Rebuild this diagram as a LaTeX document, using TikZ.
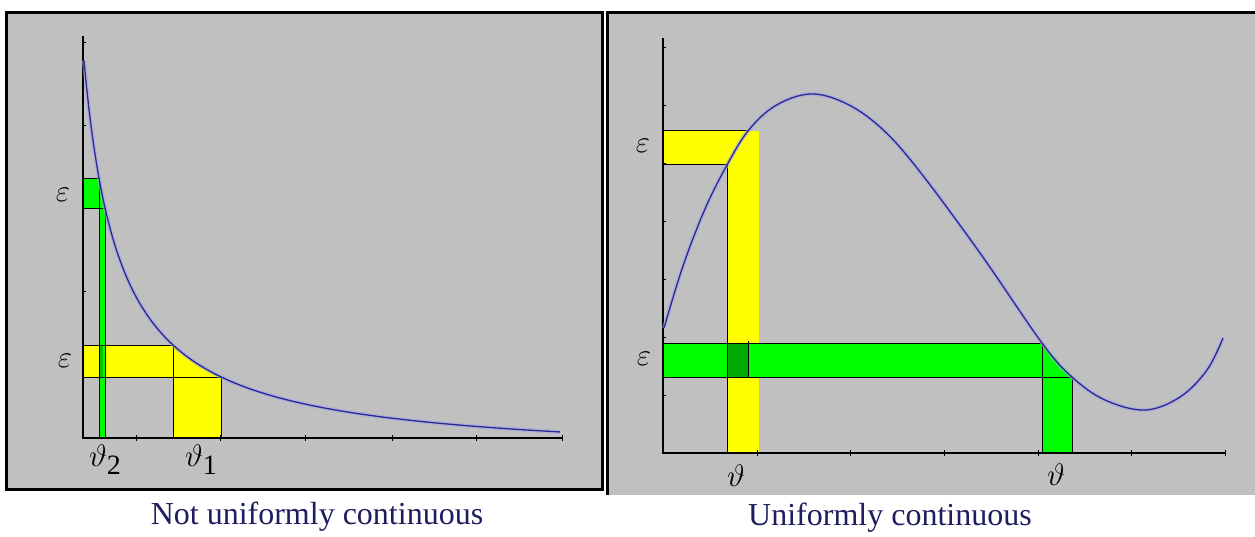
\RequirePackage{fix-cm}
\documentclass[tikz,border=0pt]{standalone}
\usepackage{fontspec}
\setmainfont{Liberation Serif}
\definecolor{panelgray}{RGB}{192,192,192}
\definecolor{yel}{RGB}{255,255,0}
\definecolor{grn}{RGB}{0,255,0}
\definecolor{dgrn}{RGB}{0,170,0}
\definecolor{curveblue}{RGB}{40,40,150}
\definecolor{halocol}{RGB}{165,165,225}
\definecolor{captionblue}{RGB}{30,30,95}
\begin{document}
\begin{tikzpicture}[x=1pt,y=-1pt,
  lab/.style={inner sep=0pt, font=\fontsize{31}{33}\selectfont},
  edgeline/.style={black, line width=1pt},
  axisline/.style={black, line width=1.4pt},
  tickmark/.style={black, line width=0.8pt},
  fcurve/.style={curveblue, line width=1.3pt, line join=round},
  halo/.style={halocol, line width=4pt, opacity=0.6, line join=round},
  caption/.style={font=\fontsize{32}{34}\selectfont, text=captionblue, anchor=base, inner sep=0pt},
  frame/.style={black, line width=3pt}]
\useasboundingbox (0,0) rectangle (1255,537);
\fill[white] (0,0) rectangle (1255,537);
% panels
\fill[panelgray] (6,13) rectangle (602,489);
\fill[panelgray] (607,13) rectangle (1255,495);

% ================= LEFT PANEL =================
\fill[yel] (83,345) -- (173,345) -- plot[domain=173:221.19, samples=20] (\x,{460-14375/(\x-48)}) -- (221.19,438) -- (173,438) -- (173,377) -- (83,377) -- cycle;
\fill[grn] (83,179) -- (99.16,179) -- plot[domain=99.16:105.27, samples=8] (\x,{460-14375/(\x-48)}) -- (105.27,438) -- (99.16,438) -- (99.16,209) -- (83,209) -- cycle;
\fill[dgrn!70!grn] (99.16,345) rectangle (103,377);
\draw[edgeline] (83,345) -- (173,345) -- (173,438);
\draw[edgeline] (83,377) -- (221.19,377) -- (221.19,438);
\draw[edgeline] (83,179) -- (99.16,179) -- (99.16,438);
\draw[edgeline] (83,209) -- (105.27,209) -- (105.27,438);
\draw[axisline] (83,36) -- (83,438) -- (562,438);
\foreach \t in {136,220,305,392,476,562} \draw[tickmark] (\t,435) -- (\t,441);
\foreach \t in {42,125,208,291} \draw[tickmark] (83,\t) -- (86,\t);
\draw[halo] plot[domain=84:560, samples=200] (\x,{460-14375/(\x-48)});
\draw[fcurve] plot[domain=84:560, samples=200] (\x,{460-14375/(\x-48)});
\node[lab] (epsL1) at (63,195) {$\varepsilon$};
\node[lab] (epsL2) at (65,361) {$\varepsilon$};
\node[lab] (delta2) at (105,460) {$\vartheta$\raisebox{-8pt}{\fontsize{28}{30}\selectfont 2}};
\node[lab] (delta1) at (201,460) {$\vartheta$\raisebox{-8pt}{\fontsize{28}{30}\selectfont 1}};
\draw[frame] (6,13) rectangle (602,489);

% ================= RIGHT PANEL =================
\fill[yel] (663,131) rectangle (759,165);
\fill[yel] (727,131) rectangle (759,453);
\fill[grn] (663,343) -- (1042,343) -- (1072,377) -- (1072,453) -- (1042,453) -- (1042,377) -- (663,377) -- cycle;
\fill[dgrn] (727,343) rectangle (748,377);
\draw[edgeline] (663,131) -- (748,131);
\draw[edgeline] (663,165) -- (727,165) -- (727,453);
\draw[edgeline] (748,341) -- (748,377);
\draw[edgeline] (663,343) -- (1042,343) -- (1042,453);
\draw[edgeline] (663,377) -- (1072,377) -- (1072,453);
\draw[axisline] (663,38) -- (663,453) -- (1225,453);
\foreach \t in {757,850,944,1038,1131,1225} \draw[tickmark] (\t,450) -- (\t,456);
\foreach \t in {47,105,163,221,279,337,395} \draw[tickmark] (663,\t) -- (666,\t);
\draw[halo] plot[smooth, tension=0.6] coordinates {(664,328) (683,266) (705,209) (727,165) (748,131) (775,106) (810,94) (845,103) (880,127) (917,168) (980,253) (1042,343) (1072,377) (1105,400) (1145,410) (1180,397) (1207,370) (1223,338)};
\draw[fcurve] plot[smooth, tension=0.6] coordinates {(664,328) (683,266) (705,209) (727,165) (748,131) (775,106) (810,94) (845,103) (880,127) (917,168) (980,253) (1042,343) (1072,377) (1105,400) (1145,410) (1180,397) (1207,370) (1223,338)};
\node[lab] (epsR1) at (643,146) {$\varepsilon$};
\node[lab] (epsR2) at (644,359) {$\varepsilon$};
\node[lab] (deltaR1) at (736,476) {$\vartheta$};
\node[lab] (deltaR2) at (1056,475) {$\vartheta$};
\draw[frame] (607,495) -- (607,13) -- (1256,13);

% captions
\node[caption] (capL) at (317,524) {Not uniformly continuous};
\node[caption] (capR) at (890,525) {Uniformly continuous};
\end{tikzpicture}
\end{document}
